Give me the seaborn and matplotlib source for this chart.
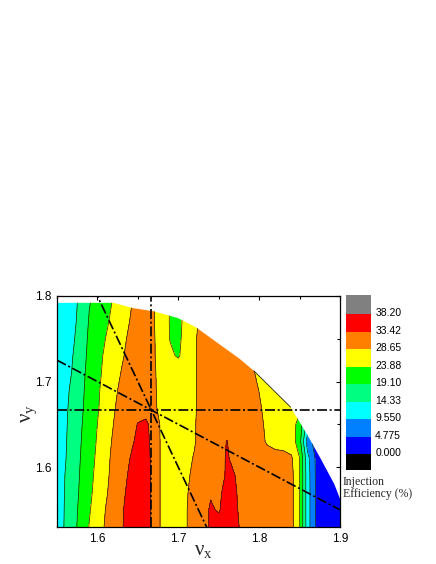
import numpy as np
import matplotlib
matplotlib.use("Agg")
import matplotlib.pyplot as plt
from matplotlib.patches import Polygon
from matplotlib.ticker import MultipleLocator, FormatStrFormatter
import seaborn as sns

# tune grid (nu_x columns, nu_y rows)
nu_x = [1.55, 1.56, 1.57, 1.58, 1.59, 1.60, 1.61, 1.62, 1.63, 1.64, 1.65, 1.66,
        1.67, 1.68, 1.69, 1.70, 1.71, 1.72, 1.73, 1.74, 1.75, 1.76, 1.77, 1.78,
        1.79, 1.80, 1.81, 1.82, 1.83, 1.84, 1.85, 1.86, 1.87, 1.88, 1.89, 1.90]
nu_y = [1.53, 1.55, 1.57, 1.59, 1.61, 1.63, 1.65, 1.67, 1.69, 1.71, 1.73, 1.75, 1.77, 1.795]

# injection efficiency (%), one list per nu_y row
eff_153 = [11, 14.9, 17.7, 20.8, 24.1, 26.6, 29.1, 30.8, 33.1, 34.8, 36, 35.5, 32, 27.5, 26, 26.5, 28.5, 30,
           31.5, 34, 35.5, 36, 35, 32, 31, 31, 31, 31, 31, 30, 24, 11.5, 4.5, 2.5, 2, 2]
eff_155 = [11, 14.75, 17.5, 20.4, 23.5, 26.2, 28.7, 30.5, 33, 34.8, 36, 35.5, 32, 27.5, 26, 26.5, 28.5, 30,
           31.5, 34, 33, 35.5, 34.5, 31.5, 31, 31, 31, 31, 31, 30, 24, 11.5, 4.5, 2.5, 2, 2]
eff_157 = [11, 14.6, 17.2, 20.0, 23.0, 25.5, 28.1, 30.2, 32.5, 34.5, 36, 35.5, 32, 27.5, 26, 26.5, 28.3, 30,
           31.5, 33, 32.5, 35, 34.2, 31, 31, 31, 31, 31, 31, 30, 24, 11.5, 4.5, 2.5, 2, 2]
eff_159 = [11, 14.4, 17, 19.7, 22.5, 25.2, 27.6, 30, 32, 34, 35.5, 35.3, 32, 27.5, 26, 26.5, 28, 29.5,
           31, 31.5, 31.5, 34, 33.5, 31, 31, 31, 31, 31, 31, 30, 24, 11.5, 4.4, 2.5, 2, 2]
eff_161 = [11, 14.0, 16.7, 19.4, 22.0, 24.8, 27.2, 29.8, 31.5, 33.4, 35, 35, 32, 27.5, 26, 26.5, 27.5, 29,
           30.5, 31, 31, 34, 32, 31, 31, 31, 31, 31, 30.5, 29.2, 24, 11, 4.2, 2.5, 2, 2]
eff_163 = [11, 13.8, 16.5, 19.1, 21.7, 24.3, 26.8, 29.3, 31, 32.2, 34.5, 34.5, 32, 27.5, 26, 26.5, 27.5, 28.3,
           30.5, 31, 31, 33.6, 31.5, 31, 31, 30.5, 28, 26.5, 26.5, 26.5, 21, 7, 3, 2.5, 2, 2]
eff_165 = [11, 13.6, 16.3, 18.8, 21.4, 23.9, 26.3, 28.7, 30.5, 31.5, 33.6, 34.3, 31.5, 27.5, 26, 26.5, 27.5, 28.3,
           30.5, 31, 31, 31, 31, 31, 31, 30, 27.5, 26.5, 26.5, 26, 22, 12, 5, 3, 2.5, 2]
eff_167 = [11, 13.4, 16, 18.4, 21, 23.4, 25.9, 28.2, 30.2, 31, 31.5, 31.5, 29.5, 27, 26, 26.5, 27.5, 28,
           30.5, 31, 31, 31, 31, 31, 31, 29.5, 26.5, 26, 26, 26, 25, 24, 24, 24, 24, 24]
eff_169 = [11, 13, 15.6, 18.1, 20.8, 23.2, 25.5, 27.6, 29.7, 31, 31.5, 31.5, 29.3, 27, 26, 26.5, 27.5, 28,
           30.5, 31, 31, 31, 31, 31, 31, 28.5, 26, 26, 26, 26, 26, 26, 26, 26, 26, 26]
eff_171 = [11, 12.5, 14.8, 17.8, 20.5, 22.8, 25, 26.8, 28.9, 30.5, 31, 31, 29.2, 26.8, 26, 26.5, 27.5, 28,
           30.5, 31, 31, 31, 31, 31, 30, 27, 26, 26, 26, 26, 26, 26, 26, 26, 26, 26]
eff_173 = [11, 12.4, 14.4, 17.2, 20.2, 22.5, 24.6, 26.3, 28.1, 30, 31, 31, 29, 26.5, 24.5, 23.5, 25.5, 28,
           30.5, 31, 31, 31, 31, 31, 29, 28, 28, 28, 28, 28, 28, 28, 28, 28, 28, 28]
eff_175 = [11, 12.2, 13.8, 16.7, 19.9, 21.8, 23.9, 25.6, 27.4, 29.5, 31, 31, 29, 26, 23.7, 23, 25.5, 28,
           30.5, 31, 31, 31, 31, 31, 31, 31, 31, 31, 31, 31, 31, 31, 31, 31, 31, 31]
eff_177 = [11, 12, 13.3, 16, 19.5, 21.3, 23.1, 25, 26.8, 28.7, 30.5, 31, 28.8, 26, 23.6, 22.5, 25.5, 27.5,
           30, 31, 31, 31, 31, 31, 31, 31, 31, 31, 31, 31, 31, 31, 31, 31, 31, 31]
eff_1795 = [11, 11.8, 13, 15.5, 18.8, 20.5, 22.3, 24.2, 26, 28, 30, 31, 28.8, 26, 23.6, 22.5, 25.5, 27.5,
            30, 31, 31, 31, 31, 31, 31, 31, 31, 31, 31, 31, 31, 31, 31, 31, 31, 31]

# edge of the scanned (stable) tune region
edge_x = [1.55, 1.62, 1.643, 1.67, 1.70, 1.7225, 1.7766, 1.7934, 1.839, 1.86, 1.8766, 1.893, 1.90]
edge_y = [1.792, 1.792, 1.786, 1.782, 1.774, 1.763, 1.726, 1.7126, 1.670, 1.637, 1.609, 1.580, 1.563]

# contour levels and colour table
levels = [-4.775, 0.0, 4.775, 9.55, 14.33, 19.10, 23.88, 28.65, 33.42, 38.20, 42.975]
level_labels = ["0.000", "4.775", "9.550", "14.33", "19.10", "23.88", "28.65", "33.42", "38.20"]
band_colors = ["#000000", "#0000FF", "#0080FF", "#00FFFF", "#00FF80",
               "#00FF00", "#FFFF00", "#FF8000", "#FF0000", "#808080"]

# resonance lines a*nu_x + b*nu_y = n
resonances = [(3, 0, 5), (0, 3, 5), (2, 1, 5), (1, 2, 5)]

sns.set_theme(style="ticks")
plt.rcParams["font.family"] = ["Liberation Sans", "DejaVu Sans"]
plt.rcParams["mathtext.fontset"] = "custom"
plt.rcParams["mathtext.rm"] = "Liberation Serif"
plt.rcParams["mathtext.it"] = "Liberation Serif"

Z = np.array([eff_153, eff_155, eff_157, eff_159, eff_161, eff_163, eff_165,
              eff_167, eff_169, eff_171, eff_173, eff_175, eff_177, eff_1795])

fig = plt.figure(figsize=(4.36, 5.64), dpi=100)
ax = fig.add_axes([0.1307, 0.0656, 0.6491, 0.4096])
ax.set_facecolor("white")

cs = ax.contourf(nu_x, nu_y, Z, levels=levels, colors=band_colors)
cl = ax.contour(nu_x, nu_y, Z, levels=levels[1:-1], colors="#222211", linewidths=0.5)

xlo, xhi, ylo, yhi = 1.55, 1.90, 1.53, 1.80
poly_pts = [(xlo, ylo - 0.05)] + list(zip(edge_x, edge_y)) + [(xhi + 0.05, edge_y[-1]), (xhi + 0.05, ylo - 0.05)]
clip = Polygon(poly_pts, closed=True, transform=ax.transData)
cs.set_clip_path(clip)
cl.set_clip_path(clip)
# short stretch where a contour line runs along the edge
ax.plot(edge_x[7:9], edge_y[7:9], color="#222211", lw=0.6)

dash = (0, (6, 1.6, 1.2, 1.6))
xs = np.array([xlo, xhi])
for a, b, n in resonances:
    if b == 0:
        ax.axvline(n / a, color="black", lw=1.2, linestyle=dash)
    elif a == 0:
        ax.axhline(n / b, color="black", lw=1.2, linestyle=dash)
    else:
        ax.plot(xs, (n - a * xs) / b, color="black", lw=1.2, linestyle=dash)

ax.set_xlim(xlo, xhi)
ax.set_ylim(ylo, yhi)
ax.set_xticks([1.6, 1.7, 1.8, 1.9])
ax.set_yticks([1.6, 1.7, 1.8])
ax.xaxis.set_minor_locator(MultipleLocator(0.05))
ax.yaxis.set_minor_locator(MultipleLocator(0.05))
ax.xaxis.set_major_formatter(FormatStrFormatter("%.1f"))
ax.yaxis.set_major_formatter(FormatStrFormatter("%.1f"))
ax.tick_params(which="both", direction="in", top=True, right=True, width=0.8,
               labelsize=8.5, colors="black")
ax.tick_params(which="major", length=3, pad=4)
ax.tick_params(which="minor", length=2)
for sp in ax.spines.values():
    sp.set_linewidth(0.9)
    sp.set_color("black")

ax.set_xlabel(r"$\nu_\mathrm{x}$", fontsize=15)
ax.set_ylabel(r"$\nu_\mathrm{y}$", fontsize=15)
ax.xaxis.set_label_coords(0.516, -0.06)
ax.yaxis.set_label_coords(-0.065, 0.49)

cax = fig.add_axes([0.7936, 0.1667, 0.0573, 0.3103])
cb = fig.colorbar(cs, cax=cax, ticks=levels[1:-1])
cb.ax.set_yticklabels(level_labels)
cb.outline.set_visible(False)
cb.ax.tick_params(length=0, pad=3, labelsize=7.5, colors="black")
for c in cb.ax.collections:
    c.set_edgecolor("face")

fig.text(0.786, 0.156, "Injection\nEfficiency (%)", family="Liberation Serif",
         fontsize=8.5, va="top", ha="left", linespacing=1.0)

fig.savefig("out.png", dpi=100, facecolor="white")
